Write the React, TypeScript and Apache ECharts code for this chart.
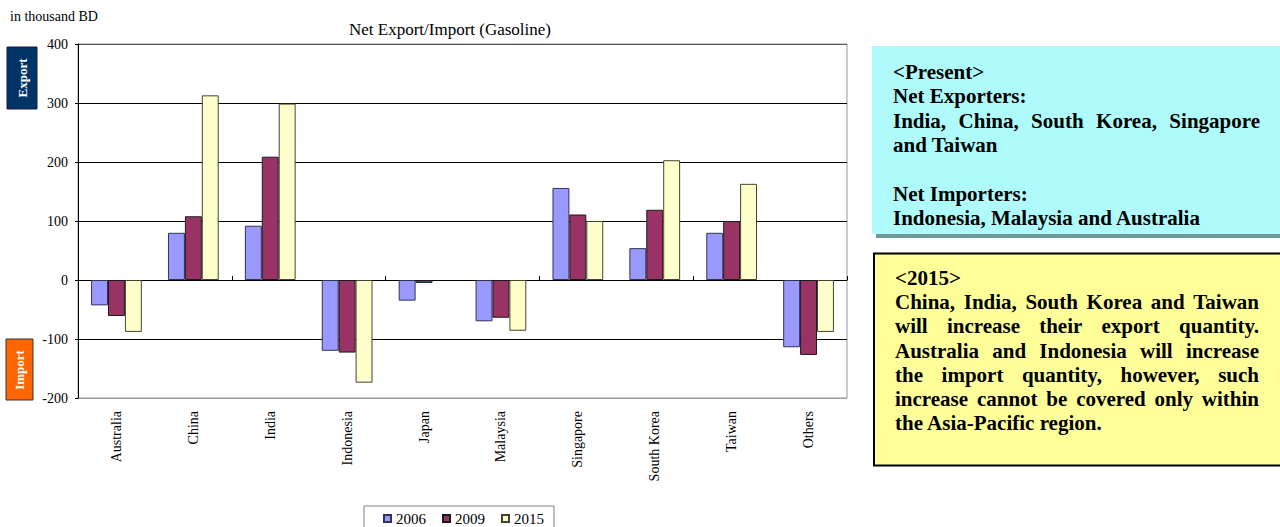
import React, { useEffect, useRef } from "react";
import * as echarts from "echarts";

const categories = [
  "Australia",
  "China",
  "India",
  "Indonesia",
  "Japan",
  "Malaysia",
  "Singapore",
  "South Korea",
  "Taiwan",
  "Others",
];
const seriesNames = ["2006", "2009", "2015"];
const v2006 = [-43, 80, 92, -120, -35, -70, 156, 54, 80, -114];
const v2009 = [-61, 108, 209, -123, -5, -64, 111, 119, 100, -127];
const v2015 = [-88, 313, 299, -174, null, -86, 100, 203, 163, -88];
const yMin = -200;
const yMax = 400;
const yInterval = 100;

const chartTitle = "Net Export/Import (Gasoline)";
const unitLabel = "in thousand BD";
const exportLabel = "Export";
const importLabel = "Import";

const presentLines = [
  "<Present>",
  "Net Exporters:",
  "India, China, South Korea, Singapore",
  "and Taiwan",
  "",
  "Net Importers:",
  "Indonesia, Malaysia and Australia",
];
const presentJustified = [false, false, true, false, false, false, false];

const forecastLines = [
  "<2015>",
  "China, India, South Korea and Taiwan",
  "will increase their export quantity.",
  "Australia and Indonesia will increase",
  "the import quantity, however, such",
  "increase cannot be covered only within",
  "the Asia-Pacific region.",
];
const forecastJustified = [false, true, true, true, true, true, false];

const SERIF = "Liberation Serif";

function measureText(text: string, font: string): number {
  const ctx = document.createElement("canvas").getContext("2d");
  if (!ctx) return text.length * 10;
  ctx.font = font;
  return ctx.measureText(text).width;
}

function textBlock(
  lines: string[],
  justified: boolean[],
  x0: number,
  x1: number,
  y0: number,
  step: number,
  size: number
) {
  const els: any[] = [];
  const font = `bold ${size}px "Liberation Serif"`;
  const baseStyle = {
    fontSize: size,
    fontWeight: "bold",
    fontFamily: SERIF,
    fill: "#000",
    textAlign: "left",
    align: "left",
    textVerticalAlign: "middle",
    verticalAlign: "middle",
  };
  lines.forEach((line, i) => {
    if (!line) return;
    const y = y0 + i * step;
    if (justified[i]) {
      const words = line.split(" ");
      const widths = words.map((w) => measureText(w, font));
      const total = widths.reduce((a, b) => a + b, 0);
      const gap = (x1 - x0 - total) / (words.length - 1);
      let x = x0;
      words.forEach((w, k) => {
        els.push({ type: "text", x, y, z: 10, style: { ...baseStyle, text: w } });
        x += widths[k] + gap;
      });
    } else {
      els.push({ type: "text", x: x0, y, z: 10, style: { ...baseStyle, text: line } });
    }
  });
  return els;
}

export default function App() {
  const ref = useRef<HTMLDivElement>(null);

  useEffect(() => {
    if (!ref.current) return;
    const chart = echarts.init(ref.current, null, { renderer: "svg" });

    const barBase = {
      type: "bar",
      barGap: "0%",
      barCategoryGap: "34%",
      xAxisIndex: 0,
      yAxisIndex: 0,
    };

    const graphics: any[] = [
      {
        type: "text",
        x: 10,
        y: 16,
        style: {
          text: unitLabel,
          fontSize: 14,
          fontFamily: SERIF,
          fill: "#000",
          textAlign: "left",
          align: "left",
          textVerticalAlign: "middle",
          verticalAlign: "middle",
        },
      },
      {
        type: "text",
        x: 450,
        y: 29,
        style: {
          text: chartTitle,
          fontSize: 17,
          fontFamily: SERIF,
          fill: "#000",
          textAlign: "center",
          align: "center",
          textVerticalAlign: "middle",
          verticalAlign: "middle",
        },
      },
      {
        type: "rect",
        shape: { x: 7, y: 47, width: 30, height: 62 },
        style: { fill: "#003366", stroke: "#1a1a40", lineWidth: 1 },
      },
      {
        type: "text",
        x: 22,
        y: 78,
        rotation: Math.PI / 2,
        style: {
          text: exportLabel,
          fontSize: 13,
          fontWeight: "bold",
          fontFamily: SERIF,
          fill: "#fff",
          textAlign: "center",
          align: "center",
          textVerticalAlign: "middle",
          verticalAlign: "middle",
        },
      },
      {
        type: "rect",
        shape: { x: 6, y: 339, width: 27, height: 61 },
        style: { fill: "#FF6600", stroke: "#333", lineWidth: 1 },
      },
      {
        type: "text",
        x: 19.5,
        y: 370,
        rotation: Math.PI / 2,
        style: {
          text: importLabel,
          fontSize: 13,
          fontWeight: "bold",
          fontFamily: SERIF,
          fill: "#fff",
          textAlign: "center",
          align: "center",
          textVerticalAlign: "middle",
          verticalAlign: "middle",
        },
      },
      // cyan box with shadow
      {
        type: "rect",
        shape: { x: 876, y: 50, width: 410, height: 188 },
        style: { fill: "#6B9A9A" },
      },
      {
        type: "rect",
        shape: { x: 872, y: 46, width: 410, height: 188 },
        style: { fill: "#AFFAFA" },
      },
      // yellow box
      {
        type: "rect",
        shape: { x: 874, y: 253.5, width: 410, height: 212 },
        style: { fill: "#FFFF99", stroke: "#000", lineWidth: 2 },
      },
      ...textBlock(presentLines, presentJustified, 893, 1260, 72, 24.4, 21),
      ...textBlock(forecastLines, forecastJustified, 895, 1259, 278, 24.2, 21),
    ];

    chart.setOption({
      animation: false,
      textStyle: { fontFamily: SERIF, color: "#000" },
      grid: {
        left: 78,
        top: 44,
        width: 769,
        height: 354,
        show: true,
        borderColor: "#999",
        borderWidth: 1,
        backgroundColor: "#fff",
      },
      legend: {
        data: seriesNames,
        left: 364,
        top: 506,
        icon: "rect",
        itemWidth: 7,
        itemHeight: 7,
        itemGap: 16,
        padding: [5, 10, 12, 19],
        borderColor: "#808080",
        borderWidth: 1,
        textStyle: { fontSize: 15, fontFamily: SERIF, color: "#000" },
      },
      xAxis: [
        {
          type: "category",
          data: categories,
          position: "bottom",
          axisLine: { show: true, onZero: true, lineStyle: { color: "#000", width: 1 } },
          axisTick: { show: true, inside: true, length: 4, lineStyle: { color: "#000" } },
          axisLabel: { show: false },
          splitLine: { show: false },
        },
        {
          type: "category",
          data: categories,
          position: "bottom",
          axisLine: { show: false, onZero: false },
          axisTick: { show: false },
          axisLabel: {
            show: true,
            rotate: 90,
            margin: 13,
            fontSize: 14,
            fontFamily: SERIF,
            color: "#000",
            interval: 0,
          },
          splitLine: { show: false },
        },
      ],
      yAxis: {
        type: "value",
        min: yMin,
        max: yMax,
        interval: yInterval,
        axisLine: { show: true, lineStyle: { color: "#000", width: 1 } },
        axisTick: { show: true, length: 3, lineStyle: { color: "#000" } },
        axisLabel: { fontSize: 14, fontFamily: SERIF, color: "#000", margin: 10 },
        splitLine: {
          show: true,
          lineStyle: {
            color: ["#999", "#000", "#000", "#000", "#000", "#000", "#555"],
            width: 1,
          },
        },
      },
      series: [
        {
          ...barBase,
          name: seriesNames[0],
          data: v2006,
          itemStyle: { color: "#9999FF", borderColor: "#333355", borderWidth: 1 },
        },
        {
          ...barBase,
          name: seriesNames[1],
          data: v2009,
          itemStyle: { color: "#993366", borderColor: "#1a1a1a", borderWidth: 1 },
        },
        {
          ...barBase,
          name: seriesNames[2],
          data: v2015,
          itemStyle: { color: "#FFFFCC", borderColor: "#444433", borderWidth: 1 },
        },
      ],
      graphic: graphics,
    });

    return () => {
      chart.dispose();
    };
  }, []);

  return (
    <div
      ref={ref}
      style={{ position: "fixed", left: 0, top: 0, width: 1280, height: 527, background: "#fff" }}
    />
  );
}
